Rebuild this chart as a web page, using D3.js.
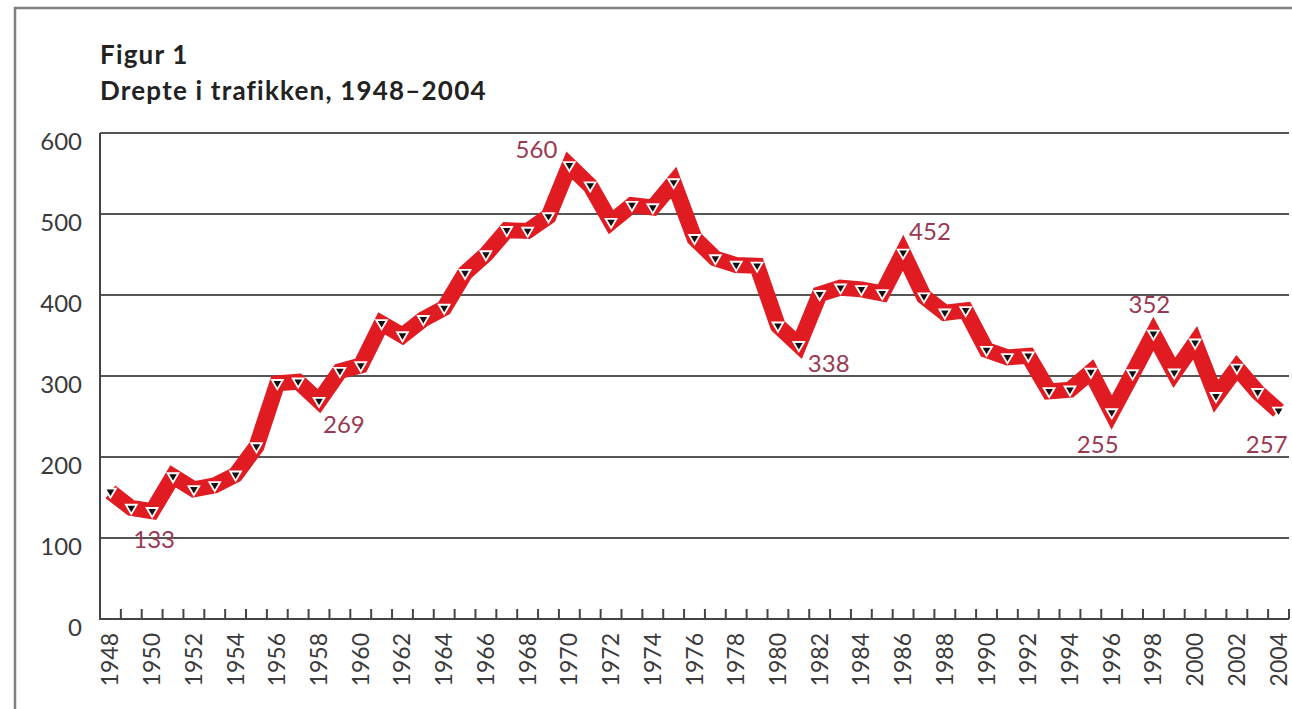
<!DOCTYPE html>
<html lang="no">
<head>
<meta charset="utf-8">
<title>Drepte i trafikken</title>
<script src="https://cdn.jsdelivr.net/npm/d3@7"></script>
<style>
  body { margin: 0; background: #fff; }
  svg text { font-family: Lato, "Noto Sans", sans-serif; }
</style>
</head>
<body>
<svg id="chart" width="1292" height="709"></svg>
<script>
// data
var years = d3.range(1948, 2005);
var killed = [
  157, 137, 133, 176, 160, 165, 178, 213, 291, 293,
  269, 306, 313, 365, 350, 370, 384, 427, 450, 480,
  479, 497, 560, 535, 490, 511, 508, 539, 470, 445,
  437, 436, 362, 338, 401, 409, 407, 402, 452, 398,
  378, 381, 332, 323, 325, 281, 283, 305, 255, 303,
  352, 304, 341, 275, 310, 280, 257
];
var yTicks = [0, 100, 200, 300, 400, 500, 600];
var labelYears = [1950, 1958, 1970, 1981, 1986, 1996, 1998, 2004];

var svg = d3.select("#chart");
var pLeft = 100, pRight = 1289, pTop = 133, pBottom = 619;

var x = d3.scaleBand().domain(years).range([pLeft, pRight]);
var y = d3.scaleLinear().domain([0, 600]).range([pBottom, pTop]);
var cx = function (yr) { return x(yr) + x.bandwidth() / 2; };

// outer frame
svg.append("path")
  .attr("d", "M15,709 V8 H1292")
  .attr("fill", "none")
  .attr("stroke", "#808080")
  .attr("stroke-width", 2.5);

// titles
svg.append("text").attr("x", 100).attr("y", 64)
  .attr("font-size", 26).attr("font-weight", 700).attr("fill", "#222")
  .attr("letter-spacing", 1.2)
  .text("Figur 1");
svg.append("text").attr("x", 100).attr("y", 100)
  .attr("font-size", 26).attr("font-weight", 700).attr("fill", "#222")
  .attr("letter-spacing", 1.2)
  .text("Drepte i trafikken, 1948–2004");

// gridlines
svg.append("g").selectAll("line")
  .data(yTicks.filter(function (d) { return d > 0; }))
  .join("line")
  .attr("x1", pLeft).attr("x2", pRight)
  .attr("y1", function (d) { return y(d); })
  .attr("y2", function (d) { return y(d); })
  .attr("stroke", "#555").attr("stroke-width", 2);

// y labels
svg.append("g").selectAll("text")
  .data(yTicks)
  .join("text")
  .attr("x", 82)
  .attr("y", function (d) { return y(d) + 17; })
  .attr("text-anchor", "end")
  .attr("font-size", 24)
  .attr("fill", "#3a3a3a")
  .text(function (d) { return d; });

// axis lines
svg.append("path")
  .attr("d", "M" + pLeft + "," + pTop + " V" + pBottom + " H" + pRight)
  .attr("fill", "none").attr("stroke", "#444").attr("stroke-width", 2);

// ticks at band edges
svg.append("g").selectAll("line")
  .data(years)
  .join("line")
  .attr("x1", function (d) { return x(d) + x.bandwidth(); })
  .attr("x2", function (d) { return x(d) + x.bandwidth(); })
  .attr("y1", pBottom - 10).attr("y2", pBottom)
  .attr("stroke", "#444").attr("stroke-width", 2);

// x labels every other year
svg.append("g").selectAll("text")
  .data(years.filter(function (d) { return d % 2 === 0; }))
  .join("text")
  .attr("transform", function (d) { return "translate(" + (cx(d) + 8) + ",633) rotate(-90)"; })
  .attr("text-anchor", "end")
  .attr("font-size", 23)
  .attr("fill", "#3a3a3a")
  .text(function (d) { return d; });

// the thick red line
var line = d3.line()
  .x(function (d, i) { return cx(years[i]); })
  .y(function (d) { return y(d); });

svg.append("path")
  .datum(killed)
  .attr("d", line)
  .attr("fill", "none")
  .attr("stroke", "#e01b22")
  .attr("stroke-width", 16)
  .attr("stroke-linejoin", "miter")
  .attr("stroke-miterlimit", 3);

// markers: white triangle with a black core
var tri = function (s) { return "M" + (-s) + "," + (-s * 0.6) + " L" + s + "," + (-s * 0.6) + " L0," + (s * 1.1) + " Z"; };
var mk = svg.append("g").selectAll("g")
  .data(killed)
  .join("g")
  .attr("transform", function (d, i) { return "translate(" + cx(years[i]) + "," + y(d) + ")"; });
mk.append("path").attr("d", tri(7)).attr("fill", "#fff");
mk.append("path").attr("d", tri(3.8)).attr("fill", "#111");

// value labels
var place = {
  1950: { dx: 2, dy: 37, a: "middle" },
  1958: { dx: 4, dy: 32, a: "start" },
  1970: { dx: -12, dy: -7, a: "end" },
  1981: { dx: 9, dy: 27, a: "start" },
  1986: { dx: 6, dy: -13, a: "start" },
  1996: { dx: -14, dy: 41, a: "middle" },
  1998: { dx: -4, dy: -21, a: "middle" },
  2004: { dx: 9, dy: 42, a: "end" }
};
svg.append("g").selectAll("text")
  .data(labelYears)
  .join("text")
  .attr("x", function (d) { return cx(d) + place[d].dx; })
  .attr("y", function (d) { return y(killed[years.indexOf(d)]) + place[d].dy; })
  .attr("text-anchor", function (d) { return place[d].a; })
  .attr("font-size", 24)
  .attr("fill", "#9a3a52")
  .text(function (d) { return killed[years.indexOf(d)]; });
</script>
</body>
</html>
